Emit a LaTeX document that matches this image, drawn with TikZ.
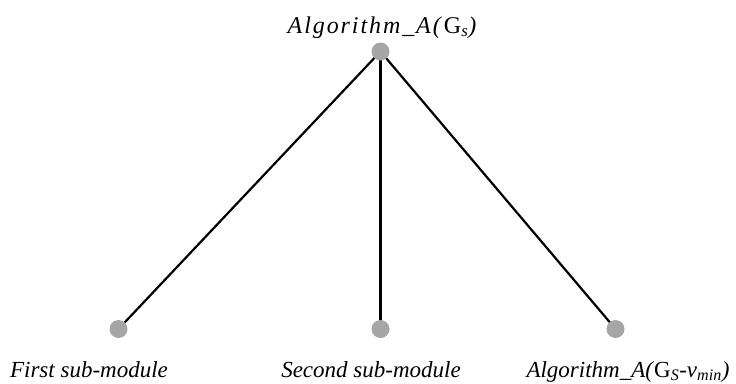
\documentclass[tikz,border=0pt]{standalone}
\usepackage{fontspec}
\setmainfont{Liberation Serif}
\usetikzlibrary{backgrounds}
\begin{document}
\begin{tikzpicture}[x=1pt,y=-1pt,
  dot/.style={circle,fill=black!35,draw=none,minimum size=18pt,inner sep=0pt},
  edge/.style={draw=black,line width=2.2pt},
  lbl/.style={inner sep=0pt,anchor=base,font=\fontsize{23}{25}\selectfont\itshape}]
\useasboundingbox (0,0) rectangle (736,383);
\node[dot] (r) at (380.5,51.5) {};
\node[dot] (a) at (118.5,329) {};
\node[dot] (b) at (380.5,329) {};
\node[dot] (c) at (615.5,329) {};
\begin{scope}[on background layer]
\draw[edge] (r.center) -- (a.center);
\draw[edge] (r.center) -- (b.center);
\draw[edge] (r.center) -- (c.center);
\end{scope}
\node[lbl,font=\fontsize{24}{26}\selectfont\itshape\addfontfeature{LetterSpace=8}] (rl) at (382,33) {Algorithm\_A(\textup{G}\textsubscript{s})};
\node[lbl] (al) at (89,377) {First sub-module};
\node[lbl] (bl) at (371,377) {Second sub-module};
\node[lbl] (cl) at (628,377) {Algorithm\_A(\textup{G}\textsubscript{S}-v\textsubscript{min})};
\end{tikzpicture}
\end{document}
